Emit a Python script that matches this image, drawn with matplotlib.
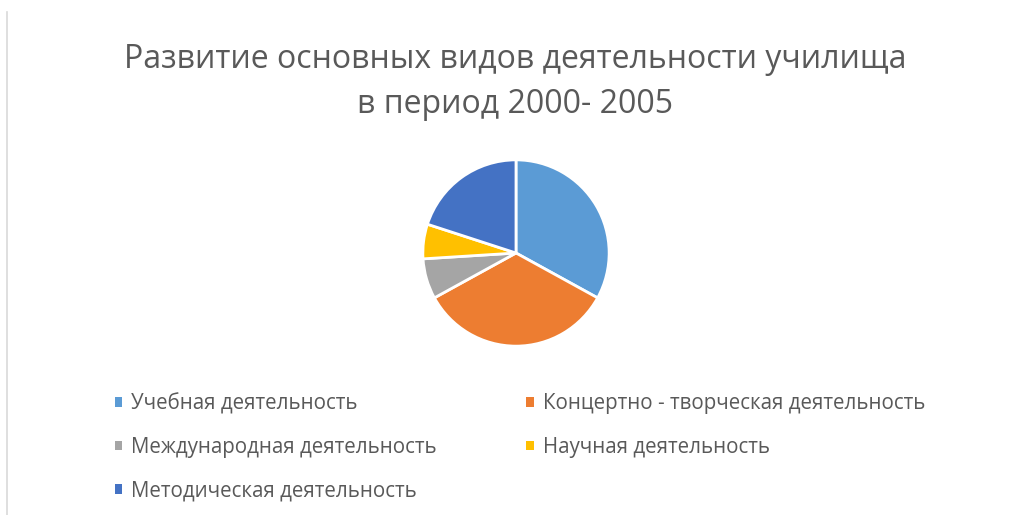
import matplotlib

matplotlib.use("Agg")
import matplotlib.pyplot as plt
from matplotlib.lines import Line2D

plt.rcParams["font.family"] = ["Open Sans", "DejaVu Sans"]

TITLE = "Развитие основных видов деятельности училища\nв период 2000- 2005"
categories = [
    "Учебная деятельность",
    "Концертно - творческая деятельность",
    "Международная деятельность",
    "Научная деятельность",
    "Методическая деятельность",
]
shares = [33, 34, 7, 6, 20]
colors = ["#5B9BD5", "#ED7D31", "#A5A5A5", "#FFC000", "#4472C4"]
TEXT = "#595959"

W, H = 1009, 515
fig = plt.figure(figsize=(W / 100, H / 100), dpi=100)
fig.patch.set_facecolor("white")

# faint chart-area border on the left
fig.add_artist(Line2D([7 / W, 7 / W], [0, 1 - 12 / H], transform=fig.transFigure,
                      color="#d9d9d9", linewidth=1.2))

fig.text(515 / W, 1 - 82 / H, TITLE, ha="center", va="center", fontsize=23,
         color=TEXT, linespacing=1.45)

# pie centred around (516, 253) px with a 95 px radius
ax = fig.add_axes([421 / W, 1 - 348 / H, 190 / W, 190 / H])
wedges, _ = ax.pie(shares, colors=colors, startangle=90, counterclock=False,
                   wedgeprops=dict(edgecolor="white", linewidth=2))
ax.set_xlim(-1.02, 1.02)
ax.set_ylim(-1.02, 1.02)
ax.set_aspect("equal")
ax.axis("off")

# legend fills column-wise: left column gets entries 0, 2, 4
order = [0, 2, 4, 1, 3]
leg = fig.legend([wedges[i] for i in order], [categories[i] for i in order],
                 loc="upper left", bbox_to_anchor=(115 / W, 1 - 393 / H), ncol=2,
                 frameon=False, fontsize=14.8, handlelength=0.35, handleheight=0.35,
                 handletextpad=0.45, columnspacing=4.35, labelspacing=1.1,
                 borderaxespad=0, borderpad=0)
for t in leg.get_texts():
    t.set_color(TEXT)
for h in leg.legend_handles:
    h.set_edgecolor("none")

fig.savefig("out.png", dpi=100)
